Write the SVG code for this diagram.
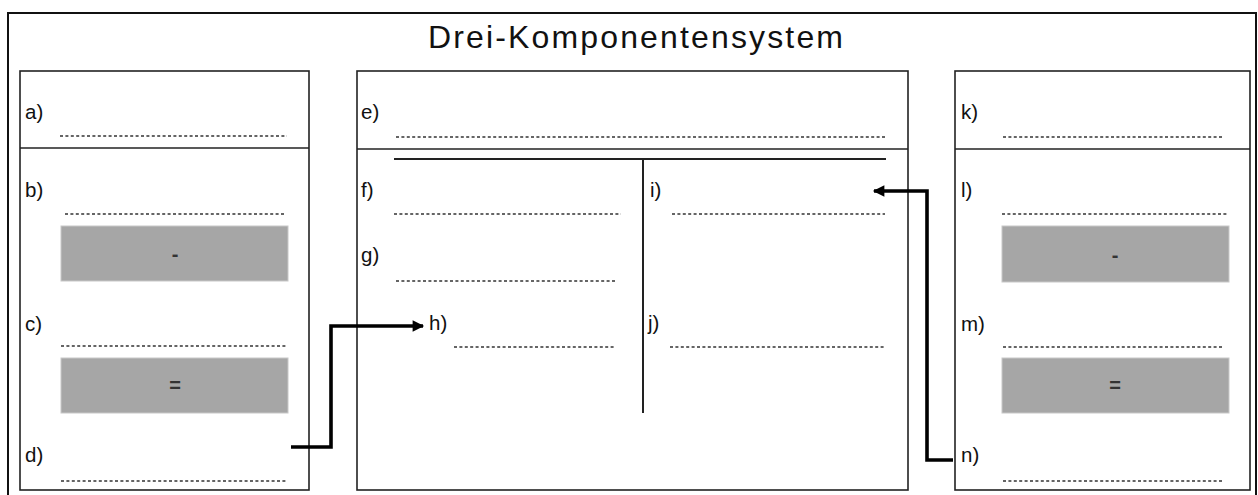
<svg xmlns="http://www.w3.org/2000/svg" width="1258" height="495" viewBox="0 0 1258 495">
<defs>
<style>
.box{fill:none;stroke:#222;stroke-width:1.6}
.frame{fill:#fff;stroke:#111;stroke-width:2}
.sep{stroke:#222;stroke-width:1.6}
.dot{stroke:#333;stroke-width:1.5;stroke-dasharray:3 2.4;fill:none}
.gray{fill:#a6a6a6;stroke:#c8c8c8;stroke-width:1}
.lbl{font-family:"Liberation Sans",Arial,sans-serif;font-size:20.5px;fill:#111}
.op{font-family:"Liberation Sans",Arial,sans-serif;font-size:20px;font-weight:bold;fill:#333;text-anchor:middle}
.title{font-family:"Liberation Sans",Arial,sans-serif;font-size:32px;fill:#111}
.conn{fill:none;stroke:#000;stroke-width:3.6}
</style>
<marker id="arr" viewBox="0 0 10 10" refX="9" refY="5" markerWidth="4" markerHeight="3.2" markerUnits="strokeWidth" orient="auto">
<path d="M0,0 L10,5 L0,10 Z" fill="#000"/>
</marker>
</defs>
<rect width="1258" height="495" fill="#fff"/>
<rect class="frame" x="8" y="13" width="1248" height="490"/>
<text class="title" x="428" y="48" textLength="415" lengthAdjust="spacing">Drei-Komponentensystem</text>

<g id="left">
<rect class="box" x="20" y="71" width="289" height="419"/>
<line class="sep" x1="20" y1="148" x2="309" y2="148"/>
<text class="lbl" x="25" y="119">a)</text>
<line class="dot" x1="60" y1="136" x2="287" y2="136"/>
<text class="lbl" x="25" y="197">b)</text>
<line class="dot" x1="65" y1="214" x2="285" y2="214"/>
<rect class="gray" x="61" y="226" width="227" height="55"/>
<text class="op" x="175" y="261">-</text>
<text class="lbl" x="25" y="331">c)</text>
<line class="dot" x1="61" y1="346" x2="287" y2="346"/>
<rect class="gray" x="61" y="358" width="227" height="55"/>
<text class="op" x="175" y="392">=</text>
<text class="lbl" x="25" y="462">d)</text>
<line class="dot" x1="61" y1="481" x2="287" y2="481"/>
</g>

<g id="middle">
<rect class="box" x="357" y="71" width="551" height="419"/>
<line class="sep" x1="357" y1="149" x2="908" y2="149"/>
<text class="lbl" x="361" y="119">e)</text>
<line class="dot" x1="396" y1="137" x2="886" y2="137"/>
<line x1="394" y1="159" x2="886" y2="159" stroke="#222" stroke-width="2"/>
<line x1="643" y1="159" x2="643" y2="413" stroke="#222" stroke-width="2"/>
<text class="lbl" x="361" y="197">f)</text>
<line class="dot" x1="394" y1="214" x2="621" y2="214"/>
<text class="lbl" x="650" y="197">i)</text>
<line class="dot" x1="672" y1="214" x2="885" y2="214"/>
<text class="lbl" x="361" y="262">g)</text>
<line class="dot" x1="396" y1="281" x2="616" y2="281"/>
<text class="lbl" x="429" y="330">h)</text>
<line class="dot" x1="454" y1="347" x2="616" y2="347"/>
<text class="lbl" x="648" y="330">j)</text>
<line class="dot" x1="670" y1="347" x2="886" y2="347"/>
</g>

<g id="right">
<rect class="box" x="955" y="71" width="295" height="419"/>
<line class="sep" x1="955" y1="149" x2="1250" y2="149"/>
<text class="lbl" x="961" y="119">k)</text>
<line class="dot" x1="1003" y1="137" x2="1223" y2="137"/>
<text class="lbl" x="961" y="197">l)</text>
<line class="dot" x1="1002" y1="214" x2="1228" y2="214"/>
<rect class="gray" x="1002" y="226" width="227" height="56"/>
<text class="op" x="1115" y="262">-</text>
<text class="lbl" x="961" y="331">m)</text>
<line class="dot" x1="1003" y1="347" x2="1223" y2="347"/>
<rect class="gray" x="1002" y="358" width="227" height="55"/>
<text class="op" x="1115" y="392">=</text>
<text class="lbl" x="961" y="462">n)</text>
<line class="dot" x1="1003" y1="481" x2="1223" y2="481"/>
</g>

<g id="connectors">
<polyline class="conn" points="291,447 331,447 331,326 423,326" marker-end="url(#arr)"/>
<polyline class="conn" points="953,460 927,460 927,191 874,191" marker-end="url(#arr)"/>
</g>
</svg>
